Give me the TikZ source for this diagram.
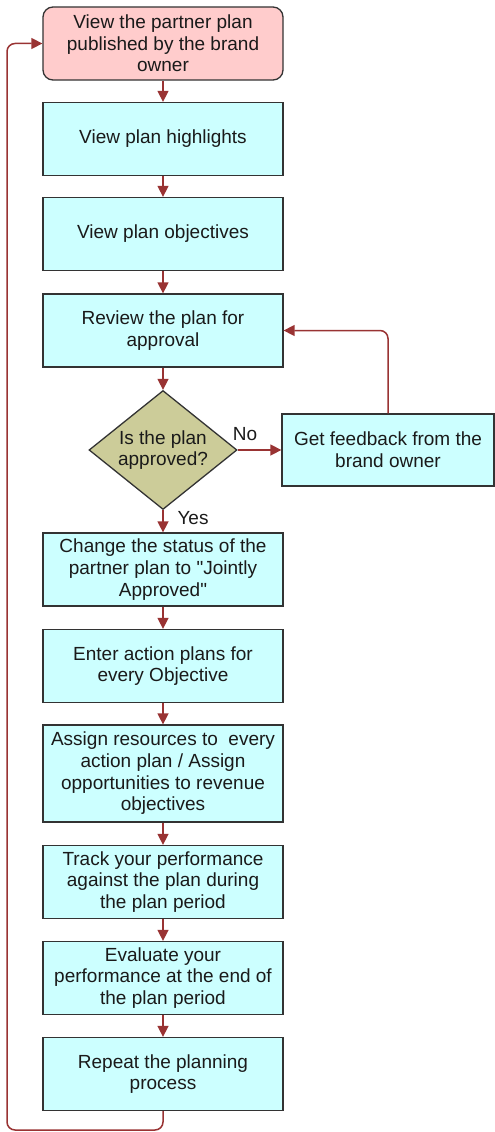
\documentclass[tikz,border=0pt]{standalone}
\usepackage{fontspec}
\setmainfont{Liberation Sans}
\usetikzlibrary{arrows.meta,shapes.geometric}
\definecolor{boxcyan}{HTML}{CCFFFF}
\definecolor{boxpink}{HTML}{FFCCCC}
\definecolor{decol}{HTML}{CCCC99}
\definecolor{conncol}{HTML}{993333}
\definecolor{edgecol}{HTML}{333333}
\definecolor{txtcol}{HTML}{1A1A1A}
\tikzset{
  x=1pt, y=-1pt,
  txt/.style={font=\fontsize{19}{21.7}\selectfont, text=txtcol, align=center},
  stepbox/.style={txt, draw=edgecol, line width=1.3pt, fill=boxcyan, minimum width=240pt, minimum height=73pt, inner sep=0pt},
  startbox/.style={stepbox, fill=boxpink, rounded corners=10pt},
  decision/.style={diamond, draw=edgecol, line width=1.3pt, fill=decol, minimum width=148pt, minimum height=119pt, inner sep=0pt},
  conn/.style={draw=conncol, line width=1.5pt, -{Triangle[length=11pt,width=11pt]}},
  lbl/.style={txt}
}
\begin{document}
\begin{tikzpicture}
\useasboundingbox (0,0) rectangle (495,1132);
\node[startbox] (b1) at (163,43.5) {View the partner plan\\published by the brand\\owner};
\node[stepbox] (b2) at (163,139) {View plan highlights};
\node[stepbox] (b3) at (163,234) {View plan objectives};
\node[stepbox] (b4) at (163,330.5) {Review the plan for\\approval};
\node[decision] (dec) at (163,450) {};
\node[txt] (dect) at (dec.center) {Is the plan\\approved?};
\node[stepbox, minimum width=212pt, minimum height=72pt] (fb) at (388,450) {Get feedback from the\\brand owner};
\node[stepbox] (b5) at (163,569.5) {Change the status of the\\partner plan to \textquotedbl Jointly\\Approved\textquotedbl};
\node[stepbox] (b6) at (163,666) {Enter action plans for\\every Objective};
\node[stepbox, minimum height=97pt] (b7) at (163,773.5) {Assign resources to\ \ every\\action plan / Assign\\opportunities to revenue\\objectives};
\node[stepbox] (b8) at (163,882) {Track your performance\\against the plan during\\the plan period};
\node[stepbox] (b9) at (163,978) {Evaluate your\\performance at the end of\\the plan period};
\node[stepbox] (b10) at (163,1074) {Repeat the planning\\process};
\node[lbl] (no) at (245,434) {No};
\node[lbl] (yes) at (193,518) {Yes};
\coordinate (l1) at (7,1130);
\draw[conn] (b1) -- (b2);
\draw[conn] (b2) -- (b3);
\draw[conn] (b3) -- (b4);
\draw[conn] (b4.south) -- (dec.north);
\draw[conn] (dec.east) -- (fb.west);
\draw[conn] (dec.south) -- (b5.north);
\draw[conn, rounded corners=8pt] (fb.north) |- (b4.east);
\draw[conn] (b5) -- (b6);
\draw[conn] (b6) -- (b7);
\draw[conn] (b7) -- (b8);
\draw[conn] (b8) -- (b9);
\draw[conn] (b9) -- (b10);
\draw[conn, rounded corners=8pt] (b10.south) |- (l1) |- (b1.west);
\end{tikzpicture}
\end{document}
